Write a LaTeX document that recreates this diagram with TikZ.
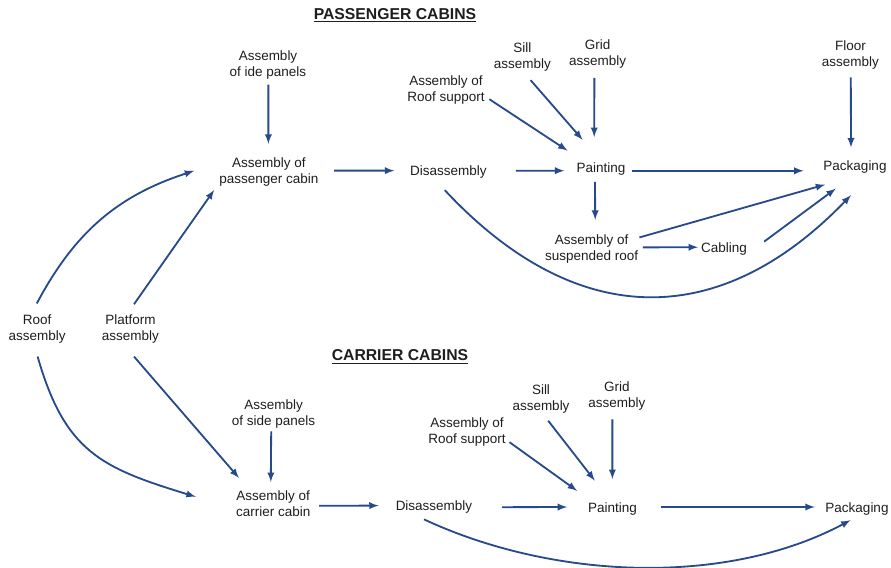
\documentclass[tikz,border=0pt]{standalone}
\usepackage{fontspec}
\setmainfont{Liberation Sans}
\usepackage{xcolor}
\usepackage{tikz}
\usetikzlibrary{arrows}

\definecolor{flowblue}{RGB}{38,74,138}
\definecolor{txtgray}{RGB}{30,30,30}

\begin{document}
\begin{tikzpicture}[box/.style={inner sep=0pt,align=center,text=txtgray,font=\fontsize{9.6}{11.35}\selectfont},
  head/.style={inner sep=0pt,anchor=base,text=txtgray,font=\fontsize{11.2}{13}\selectfont\bfseries},
  flow/.style={flowblue,line width=1.3pt,-latex}]
\useasboundingbox (0,0) rectangle (22.275,14.2);

\node[head] (ptitle) at (9.875,13.71) {\underline{PASSENGER CABINS}};
\node[head] (ctitle) at (10.0,5.18) {\underline{CARRIER CABINS}};

\node[box] (roof) at (0.93,5.98) {Roof\\assembly};
\node[box] (plat) at (3.26,5.98) {Platform\\assembly};

\node[box] (idep)   at (6.7,12.57)   {Assembly\\of ide panels};
\node[box] (pcab)   at (6.72,9.89)   {Assembly of\\passenger cabin};
\node[box] (pdis)   at (11.21,9.895) {Disassembly};
\node[box] (proof)  at (11.15,11.95) {Assembly of\\Roof support};
\node[box] (psill)  at (13.06,12.77) {Sill\\assembly};
\node[box] (pgrid)  at (14.94,12.86) {Grid\\assembly};
\node[box] (pfloor) at (21.26,12.82) {Floor\\assembly};
\node[box] (ppaint) at (15.025,9.97) {Painting};
\node[box] (ppack)  at (21.375,10.02) {Packaging};
\node[box] (psusp)  at (14.79,7.98)  {Assembly of\\suspended roof};
\node[box] (pcabl)  at (18.1,7.98)   {Cabling};

\node[box] (sidep)  at (6.84,3.86)  {Assembly\\of side panels};
\node[box] (ccab)   at (6.83,1.61)  {Assembly of\\carrier cabin};
\node[box] (cdis)   at (10.85,1.52) {Disassembly};
\node[box] (croof)  at (11.675,3.395) {Assembly of\\Roof support};
\node[box] (csill)  at (13.525,4.23) {Sill\\assembly};
\node[box] (cgrid)  at (15.42,4.31) {Grid\\assembly};
\node[box] (cpaint) at (15.31,1.48) {Painting};
\node[box] (cpack)  at (21.425,1.48) {Packaging};

% passenger line
\draw[flow] ([shift={(0.01,-0.12)}]idep.south) -- ([shift={(-0.01,0.35)}]pcab.north);
\draw[flow] ([shift={(0.39,0.045)}]pcab.east) -- ([shift={(-0.39,0.038)}]pdis.west);
\draw[flow] ([shift={(0.725,0.038)}]pdis.east) -- ([shift={(-0.3,-0.038)}]ppaint.west);
\draw[flow] ([shift={(0.11,-0.23)}]proof.east) -- ([shift={(-0.22,0.30)}]ppaint.north west);
\draw[flow] ([shift={(0.205,-0.21)}]psill.south) -- ([shift={(-0.46,0.57)}]ppaint.north);
\draw[flow] ([shift={(-0.08,-0.245)}]pgrid.south) -- ([shift={(-0.17,0.64)}]ppaint.north);
\draw[flow] ([shift={(0.17,-0.04)}]ppaint.east) -- ([shift={(-0.49,-0.09)}]ppack.west);
\draw[flow] ([shift={(0.01,-0.19)}]pfloor.south) -- ([shift={(-0.1,0.33)}]ppack.north);
\draw[flow] ([shift={(-0.15,-0.15)}]ppaint.south) -- ([shift={(0.09,0.36)}]psusp.north);
\draw[flow] ([shift={(0.025,-0.08)}]psusp.north east) -- ([shift={(0.05,-0.27)}]ppack.south west);
\draw[flow] ([shift={(0.11,0.035)}]psusp.east) -- ([shift={(-0.07,0.04)}]pcabl.west);
\draw[flow] ([shift={(0.425,0.18)}]pcabl.east) -- ([shift={(-0.48,-0.37)}]ppack.south);
\draw[flow] ([shift={(-0.09,-0.285)}]pdis.south) to[out=-47,in=-134,looseness=1.2] ([shift={(-0.1,-0.535)}]ppack.south);

% shared parts
\draw[flow] ([shift={(-0.01,0.27)}]roof.north) to[out=62,in=-162] ([shift={(-0.62,0.04)}]pcab.west);
\draw[flow] ([shift={(0.09,0.25)}]plat.north) -- ([shift={(-0.12,-0.075)}]pcab.south west);
\draw[flow] ([shift={(0.01,-0.33)}]roof.south) to[out=-74,in=163,looseness=1.2] ([shift={(-1.0,0.17)}]ccab.west);
\draw[flow] ([shift={(0.09,-0.33)}]plat.south) -- ([shift={(0.08,0.31)}]ccab.north west);

% carrier line
\draw[flow] ([shift={(-0.06,-0.08)}]sidep.south) -- ([shift={(-0.06,0.21)}]ccab.north);
\draw[flow] ([shift={(0.21,-0.055)}]ccab.east) -- ([shift={(-0.42,0.04)}]cdis.west);
\draw[flow] ([shift={(0.74,0)}]cdis.east) -- ([shift={(-0.515,0.045)}]cpaint.west);
\draw[flow] ([shift={(0.09,-0.25)}]croof.east) -- ([shift={(-0.265,0.285)}]cpaint.north west);
\draw[flow] ([shift={(0.18,-0.185)}]csill.south) -- ([shift={(-0.44,0.54)}]cpaint.north);
\draw[flow] ([shift={(-0.11,-0.23)}]cgrid.south) -- ([shift={(0,0.58)}]cpaint.north);
\draw[flow] ([shift={(0.61,0.045)}]cpaint.east) -- ([shift={(-0.26,0.045)}]cpack.west);
\draw[flow] ([shift={(-0.25,-0.14)}]cdis.south) to[out=-25,in=-152,looseness=0.85] ([shift={(-0.16,-0.12)}]cpack.south);
\end{tikzpicture}
\end{document}
